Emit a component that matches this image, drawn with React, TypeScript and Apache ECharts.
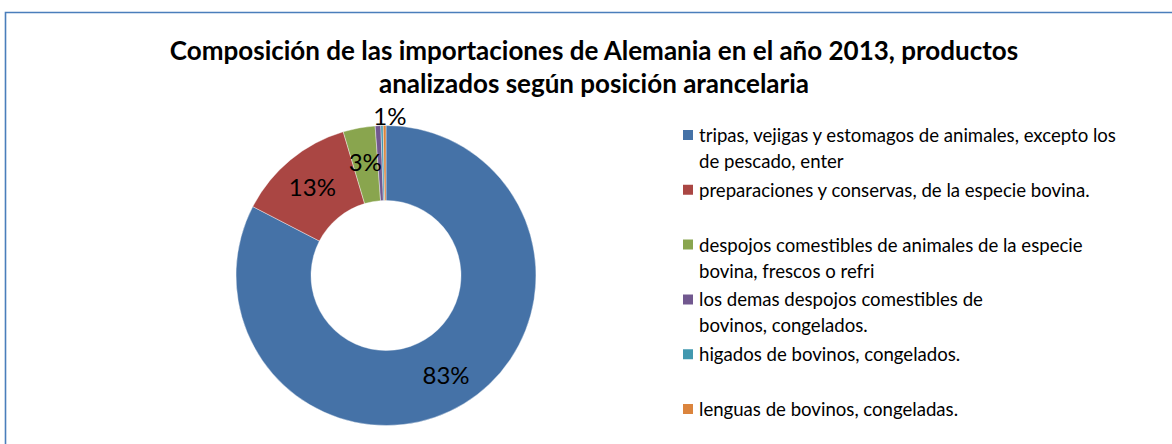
import React, { useEffect, useRef } from "react";
import * as echarts from "echarts";

const titleLines = [
  "Composición de las importaciones de Alemania en el año 2013, productos",
  "analizados según posición arancelaria",
];

const categories = [
  "tripas, vejigas y estomagos de animales, excepto los\nde pescado, enter",
  "preparaciones y conservas, de la especie bovina.",
  "despojos comestibles de animales de la especie\nbovina, frescos o refri",
  "los demas despojos comestibles de\nbovinos, congelados.",
  "higados de bovinos, congelados.",
  "lenguas de bovinos, congeladas.",
];

const values = [82.6, 12.8, 3.45, 0.6, 0.25, 0.3];

const colors = ["#4572A7", "#AA4643", "#89A54E", "#71588F", "#4198AF", "#DB843D"];

const FONT = "Lato, Carlito, Calibri, 'Noto Sans', sans-serif";

export default function App() {
  const ref = useRef<HTMLDivElement>(null);
  useEffect(() => {
    if (!ref.current) return;
    const chart = echarts.init(ref.current, undefined, { renderer: "svg" });
    const data = values.map((v, i) => {
      const item: any = { value: v, name: categories[i] };
      if (i === 3) item.label = { offset: [10, -45] };
      return item;
    });
    chart.setOption({
      animation: false,
      backgroundColor: "#ffffff",
      color: colors,
      graphic: [
        {
          type: "polyline",
          shape: { points: [[5.5, 460], [5.5, 12.5], [1190, 12.5]] },
          style: { fill: "none", stroke: "#4A7EBB", lineWidth: 1.6 },
          silent: true,
        },
      ],
      title: {
        text: titleLines.join("\n"),
        left: 594,
        top: 33,
        textAlign: "center",
        padding: 0,
        textStyle: {
          fontFamily: FONT,
          fontSize: 26,
          fontWeight: "bold",
          color: "#000",
          lineHeight: 33,
        },
      },
      legend: {
        orient: "vertical",
        left: 681,
        top: 121,
        height: 400,
        padding: 0,
        itemWidth: 12,
        itemHeight: 52,
        itemGap: 0.8,
        icon: "path://M0,7H12V19H0Z M0,0L0,0Z M0,52L0,52Z",
        formatter: (name: string) => (name.indexOf("\n") >= 0 ? name : name + "\n "),
        textStyle: {
          fontFamily: FONT,
          fontSize: 18.6,
          color: "#000",
          lineHeight: 26,
        },
        selectedMode: false,
      },
      series: [
        {
          type: "pie",
          center: [386, 275.5],
          radius: [75, 150],
          startAngle: 90,
          clockwise: true,
          avoidLabelOverlap: false,
          itemStyle: { borderColor: "#ffffff", borderWidth: 0.4 },
          label: {
            show: true,
            position: "inside",
            fontFamily: FONT,
            fontSize: 24,
            color: "#000",
            formatter: (p: any) => {
              const r = Math.round(p.percent);
              return r > 0 ? r + "%" : "";
            },
          },
          labelLine: { show: false },
          emphasis: { disabled: true },
          data,
        },
      ],
    });
    return () => chart.dispose();
  }, []);
  return (
    <div
      ref={ref}
      style={{ position: "fixed", left: 0, top: 0, width: 1172, height: 444 }}
    />
  );
}
